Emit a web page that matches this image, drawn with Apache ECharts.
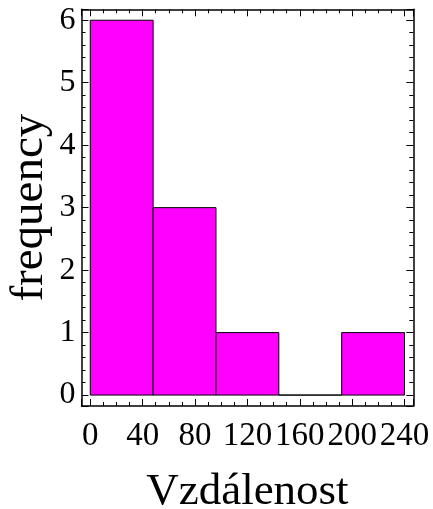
<!DOCTYPE html>
<html>
<head>
<meta charset="utf-8">
<script src="https://cdn.jsdelivr.net/npm/echarts@6/dist/echarts.min.js"></script>
<style>
html,body{margin:0;padding:0;background:#fff;}
#chart{width:433px;height:509px;}
</style>
</head>
<body>
<div id="chart"></div>
<script>
// Histogram data
const binEdges = [0, 48, 96, 144, 192, 240];
const counts = [6, 3, 1, 0, 1];
const xTickStep = 40;
const yTickStep = 1;
const xRange = [-6.7, 246.7];
const yRange = [-0.175, 6.175];
const xTitle = 'Vzdálenost';
const yTitle = 'frequency';

const barData = counts.map((c, i) => [binEdges[i], binEdges[i + 1], c]);

const font = 'Liberation Serif, Times New Roman, serif';

function xAxisCfg(pos, showLabel) {
  return {
    type: 'value', position: pos,
    min: xRange[0], max: xRange[1],
    minInterval: xTickStep, maxInterval: xTickStep,
    splitLine: {show: false},
    axisLine: {show: true, onZero: false, lineStyle: {color: '#000', width: 1.5}},
    axisTick: {show: true, inside: true, length: 7, lineStyle: {color: '#000', width: 1}},
    minorTick: {show: true, splitNumber: 4, length: 4, lineStyle: {color: '#000', width: 1}},
    axisLabel: {show: showLabel, interval: 0, showMinLabel: false, showMaxLabel: false,
      hideOverlap: false,
      color: '#000', fontFamily: font, fontSize: 33, margin: 14},
    name: showLabel ? xTitle : '',
    nameLocation: 'middle', nameGap: 64,
    nameTextStyle: {color: '#000', fontFamily: font, fontSize: 45}
  };
}
function yAxisCfg(pos, showLabel) {
  return {
    type: 'value', position: pos,
    min: yRange[0], max: yRange[1],
    minInterval: yTickStep, maxInterval: yTickStep,
    splitLine: {show: false},
    axisLine: {show: true, onZero: false, lineStyle: {color: '#000', width: 1.5}},
    axisTick: {show: true, inside: true, length: 7, lineStyle: {color: '#000', width: 1}},
    minorTick: {show: true, splitNumber: 5, length: 4, lineStyle: {color: '#000', width: 1}},
    axisLabel: {show: showLabel, interval: 0, showMinLabel: false, showMaxLabel: false,
      color: '#000', fontFamily: font, fontSize: 32, margin: 6},
    name: showLabel ? yTitle : '',
    nameLocation: 'middle', nameGap: 28, nameMoveOverlap: false,
    nameTextStyle: {color: '#000', fontFamily: font, fontSize: 47}
  };
}

const chart = echarts.init(document.getElementById('chart'), null, {renderer: 'canvas'});
chart.setOption({
  animation: false,
  backgroundColor: '#fff',
  grid: {left: 81.5, right: 19.7, top: 9.3, bottom: 103, containLabel: false, outerBoundsMode: 'none'},
  xAxis: [xAxisCfg('bottom', true), xAxisCfg('top', false)],
  yAxis: [yAxisCfg('left', true), yAxisCfg('right', false)],
  series: [{
    type: 'custom',
    xAxisIndex: 0, yAxisIndex: 0,
    data: barData,
    encode: {x: [0, 1], y: 2},
    renderItem: function (params, api) {
      const p0 = api.coord([api.value(0), api.value(2)]);
      const p1 = api.coord([api.value(1), 0]);
      return {
        type: 'rect',
        shape: {x: p0[0], y: p0[1], width: p1[0] - p0[0], height: p1[1] - p0[1]},
        style: {fill: '#ff00ff', stroke: '#000', lineWidth: 1}
      };
    }
  }]
});
</script>
</body>
</html>
